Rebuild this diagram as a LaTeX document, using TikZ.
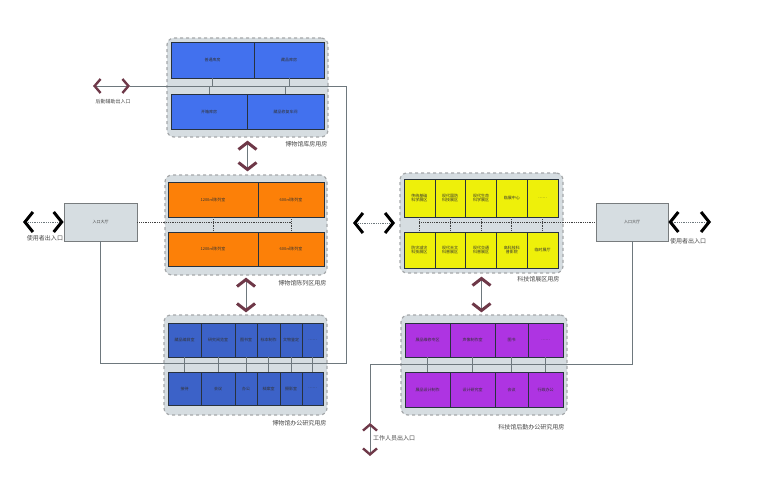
\documentclass[tikz,border=0pt]{standalone}
\usepackage{fontspec}
\setmainfont{Noto Sans CJK SC}
\usepackage{tikz}
\usetikzlibrary{arrows.meta,positioning}

\definecolor{storeBlue}{RGB}{66,113,238}
\definecolor{officeBlue}{RGB}{60,98,200}
\definecolor{showOrange}{RGB}{252,128,8}
\definecolor{sciYellow}{RGB}{238,240,10}
\definecolor{logPurple}{RGB}{174,52,226}
\definecolor{zoneFill}{RGB}{214,221,225}
\definecolor{zoneLine}{RGB}{165,168,170}
\definecolor{hallLine}{RGB}{120,124,126}
\definecolor{roomLine}{RGB}{40,50,62}
\definecolor{linkGray}{RGB}{110,120,125}
\definecolor{gateRed}{RGB}{110,56,72}
\definecolor{tagGray}{RGB}{70,70,70}

\begin{document}
\begin{tikzpicture}[x=1pt, y=-1pt]
    \tikzset{zone/.style = {shape=rectangle, draw=zoneLine, fill=zoneFill, dashed, line width=1.2pt, rounded corners=7pt}}
    \tikzset{room/.style = {shape=rectangle, draw=roomLine, line width=0.6pt, align=center, inner sep=1pt, text=black!80, font=\fontsize{4}{4.8}\selectfont}}
    \tikzset{hall/.style = {shape=rectangle, draw=hallLine, fill=zoneFill, line width=0.8pt, text=tagGray, font=\fontsize{4}{4.8}\selectfont}}
    \tikzset{tag/.style = {text=tagGray, inner sep=1pt, font=\fontsize{6}{7}\selectfont}}
    \tikzset{link/.style = {draw=linkGray, line width=0.8pt}}
    \tikzset{dotlink/.style = {draw=black!75, densely dotted, line width=0.8pt}}
    \tikzset{gateU/.style = {draw=linkGray, densely dotted, line width=0.8pt, >={Straight Barb[length=8pt,width=20pt,line width=3pt,color=black]}, <->}}
    \tikzset{gateV/.style = {draw=linkGray, line width=0.8pt, >={Straight Barb[length=7pt,width=18pt,line width=3pt,color=gateRed]}, <->}}
    \tikzset{gateS/.style = {draw=linkGray, line width=0.8pt, >={Straight Barb[length=6pt,width=14pt,line width=2.4pt,color=gateRed]}, <->}}

    \useasboundingbox (0,0) rectangle (760,500);

    % zones
    \node[zone, minimum width=161pt, minimum height=99pt] (zStore) at (247.5,87.5) {};
    \node[zone, minimum width=162pt, minimum height=100pt] (zShow) at (246,225) {};
    \node[zone, minimum width=163pt, minimum height=100pt] (zOffice) at (245.5,365) {};
    \node[zone, minimum width=163pt, minimum height=100pt] (zSci) at (481.5,223) {};
    \node[zone, minimum width=166pt, minimum height=100pt] (zLog) at (484,365) {};

    % museum storage
    \node[room, fill=storeBlue, minimum width=83pt, minimum height=36pt] (s1) at (212.5,60) {普通库房};
    \node[room, fill=storeBlue, minimum width=70pt, minimum height=36pt] (s2) at (289,60) {藏品库房};
    \node[room, fill=storeBlue, minimum width=76pt, minimum height=35pt] (s3) at (209,111.5) {开箱库房};
    \node[room, fill=storeBlue, minimum width=77pt, minimum height=35pt] (s4) at (285.5,111.5) {藏品修复车间};

    % museum exhibition
    \node[room, fill=showOrange, minimum width=90pt, minimum height=35pt] (o1) at (213,199.5) {1200㎡陈列室};
    \node[room, fill=showOrange, minimum width=66pt, minimum height=35pt] (o2) at (291,199.5) {600㎡陈列室};
    \node[room, fill=showOrange, minimum width=90pt, minimum height=34pt] (o3) at (213,249) {1200㎡陈列室};
    \node[room, fill=showOrange, minimum width=66pt, minimum height=34pt] (o4) at (291,249) {600㎡陈列室};

    % museum office
    \node[room, fill=officeBlue, minimum width=33pt, minimum height=34pt] (b1) at (184.5,340) {藏品编目室};
    \node[room, fill=officeBlue, minimum width=34pt, minimum height=34pt] (b2) at (218,340) {研究阅览室};
    \node[room, fill=officeBlue, minimum width=22pt, minimum height=34pt] (b3) at (246,340) {图书室};
    \node[room, fill=officeBlue, minimum width=23pt, minimum height=34pt] (b4) at (268.5,340) {标本制作};
    \node[room, fill=officeBlue, minimum width=22pt, minimum height=34pt] (b5) at (291,340) {文物鉴定};
    \node[room, fill=officeBlue, minimum width=21pt, minimum height=34pt] (b6) at (312.5,340) {……};
    \node[room, fill=officeBlue, minimum width=33pt, minimum height=33pt] (b7) at (184.5,388.5) {接待};
    \node[room, fill=officeBlue, minimum width=34pt, minimum height=33pt] (b8) at (218,388.5) {会议};
    \node[room, fill=officeBlue, minimum width=22pt, minimum height=33pt] (b9) at (246,388.5) {办公};
    \node[room, fill=officeBlue, minimum width=23pt, minimum height=33pt] (b10) at (268.5,388.5) {档案室};
    \node[room, fill=officeBlue, minimum width=22pt, minimum height=33pt] (b11) at (291,388.5) {摄影室};
    \node[room, fill=officeBlue, minimum width=21pt, minimum height=33pt] (b12) at (312.5,388.5) {……};

    % science exhibition
    \node[room, fill=sciYellow, minimum width=30.8pt, minimum height=38pt] (y1) at (419.4,198) {传统基础\\科学展区};
    \node[room, fill=sciYellow, minimum width=30.8pt, minimum height=38pt] (y2) at (450.2,198) {现代国防\\科技展区};
    \node[room, fill=sciYellow, minimum width=30.8pt, minimum height=38pt] (y3) at (481,198) {现代生命\\科学展区};
    \node[room, fill=sciYellow, minimum width=30.8pt, minimum height=38pt] (y4) at (511.8,198) {临展中心};
    \node[room, fill=sciYellow, minimum width=30.8pt, minimum height=38pt] (y5) at (542.6,198) {……};
    \node[room, fill=sciYellow, minimum width=30.8pt, minimum height=36pt] (y6) at (419.4,250) {防灾减灾\\科技展区};
    \node[room, fill=sciYellow, minimum width=30.8pt, minimum height=36pt] (y7) at (450.2,250) {现代天文\\科普展区};
    \node[room, fill=sciYellow, minimum width=30.8pt, minimum height=36pt] (y8) at (481,250) {现代交通\\科普展区};
    \node[room, fill=sciYellow, minimum width=30.8pt, minimum height=36pt] (y9) at (511.8,250) {高科技科\\普影院};
    \node[room, fill=sciYellow, minimum width=30.8pt, minimum height=36pt] (y10) at (542.6,250) {临时展厅};

    % science office
    \node[room, fill=logPurple, minimum width=45pt, minimum height=34pt] (p1) at (427.5,340) {展品维修专区};
    \node[room, fill=logPurple, minimum width=45pt, minimum height=34pt] (p2) at (472.5,340) {声像制作室};
    \node[room, fill=logPurple, minimum width=33pt, minimum height=34pt] (p3) at (511.5,340) {图书};
    \node[room, fill=logPurple, minimum width=35pt, minimum height=34pt] (p4) at (545.5,340) {……};
    \node[room, fill=logPurple, minimum width=45pt, minimum height=35pt] (p5) at (427.5,389.5) {展品设计制作};
    \node[room, fill=logPurple, minimum width=45pt, minimum height=35pt] (p6) at (472.5,389.5) {设计研究室};
    \node[room, fill=logPurple, minimum width=33pt, minimum height=35pt] (p7) at (511.5,389.5) {会议};
    \node[room, fill=logPurple, minimum width=35pt, minimum height=35pt] (p8) at (545.5,389.5) {行政办公};

    % halls
    \node[hall, minimum width=73pt, minimum height=38pt] (hallL) at (100.5,222) {入口大厅};
    \node[hall, minimum width=72pt, minimum height=38pt] (hallR) at (632,222) {入口大厅};

    % zone labels
    \node[tag, below left=3pt and 0pt of zStore.south east] (tStore) {博物馆库房用房};
    \node[tag, below left=4pt and 0pt of zShow.south east] (tShow) {博物馆陈列区用房};
    \node[tag, below left=4pt and 0pt of zOffice.south east] (tOffice) {博物馆办公研究用房};
    \node[tag, below left=2pt and 3pt of zSci.south east] (tSci) {科技馆展区用房};
    \node[tag, below left=8pt and 2pt of zLog.south east] (tLog) {科技馆后勤办公研究用房};

    % entrances
    \coordinate (svcL) at (93,86);
    \coordinate (svcR) at (130,86);
    \coordinate (svcTurn) at (346,86);
    \coordinate (officeTurn) at (346,363);
    \coordinate (userL) at (23,222);
    \coordinate (userR) at (711,222);
    \coordinate (midL) at (353,223);
    \coordinate (midR) at (395,223);
    \coordinate (staffTurn) at (370,364);
    \coordinate (staffUp) at (370,423);
    \coordinate (staffDn) at (370,456);
    \node[tag, font=\fontsize{5}{6}\selectfont] (tSvc) at (113,102) {后勤辅助出入口};
    \node[tag] (tUserL) at (45,238) {使用者出入口};
    \node[tag] (tUserR) at (688,241) {使用者出入口};
    \node[tag] (tStaff) at (394,438) {工作人员出入口};

    % museum links
    \draw[link] (svcR) -- (svcTurn) -- (officeTurn) -| (hallL.south);
    \draw[link] (s1.south) -- (s1.south |- svcTurn);
    \draw[link] (s2.south) -- (s2.south |- svcTurn);
    \draw[link] (s3.north) -- (s3.north |- svcTurn);
    \draw[link] (s4.north) -- (s4.north |- svcTurn);
    \draw[dotlink] (hallL.east) -- (o2.south |- hallL.east);
    \draw[dotlink] (o1.south) -- (o3.north);
    \draw[dotlink] (o2.south) -- (o4.north);
    \draw[link] (b1.south) -- (b7.north);
    \draw[link] (b2.south) -- (b8.north);
    \draw[link] (b3.south) -- (b9.north);
    \draw[link] (b4.south) -- (b10.north);
    \draw[link] (b5.south) -- (b11.north);
    \draw[link] (b6.south) -- (b12.north);

    % science links
    \draw[dotlink] (y1.south |- hallR.west) -- (hallR.west);
    \draw[dotlink] (y1.south) -- (y6.north);
    \draw[dotlink] (y2.south) -- (y7.north);
    \draw[dotlink] (y3.south) -- (y8.north);
    \draw[dotlink] (y4.south) -- (y9.north);
    \draw[dotlink] (y5.south) -- (y10.north);
    \draw[link] (hallR.south) |- (staffTurn) -- (staffUp);
    \draw[link] (p1.south) -- (p5.north);
    \draw[link] (p2.south) -- (p6.north);
    \draw[link] (p3.south) -- (p7.north);
    \draw[link] (p4.south) -- (p8.north);

    % gates
    \draw[gateS] (svcL) -- (svcR);
    \draw[gateU] (userL) -- (hallL.west);
    \draw[gateU] (hallR.east) -- (userR);
    \draw[gateU] (midL) -- (midR);
    \draw[gateS] (staffUp) -- (staffDn);
    \draw[gateV, shorten <=3pt, shorten >=3pt] (zStore.south) -- (zStore.south |- zShow.north);
    \draw[gateV, shorten <=2pt, shorten >=2pt] (zShow.south) -- (zShow.south |- zOffice.north);
    \draw[gateV, shorten <=3pt, shorten >=2pt] (zSci.south) -- (zSci.south |- zLog.north);
\end{tikzpicture}
\end{document}
